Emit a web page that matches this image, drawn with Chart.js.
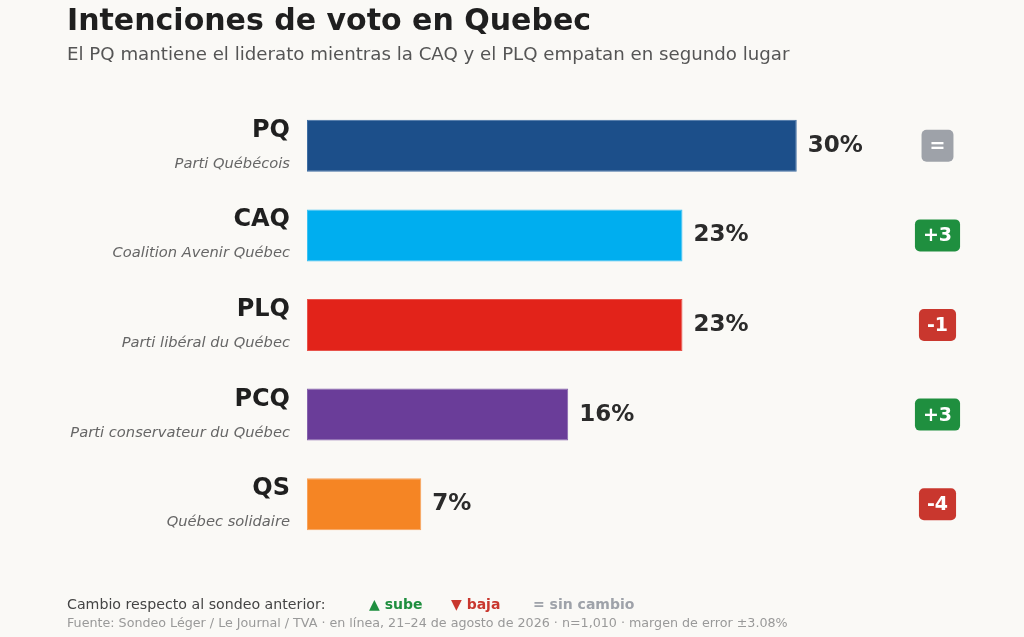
<!DOCTYPE html>
<html>
<head>
<meta charset="utf-8">
<script src="https://cdn.jsdelivr.net/npm/chart.js@4.4.1/dist/chart.umd.min.js"></script>
<style>
  html, body { margin: 0; padding: 0; background: #faf9f6; }
  canvas { display: block; }
</style>
</head>
<body>
<canvas id="voteChart" width="1024" height="637"></canvas>
<script>
const parties = ['PQ', 'CAQ', 'PLQ', 'PCQ', 'QS'];
const partyNames = ['Parti Québécois', 'Coalition Avenir Québec', 'Parti libéral du Québec', 'Parti conservateur du Québec', 'Québec solidaire'];
const votes = [30, 23, 23, 16, 7];
const changes = [0, 3, -1, 3, -4];
const barColors = ['#1c4f8a', '#00aeef', '#e2231a', '#6a3d99', '#f58524'];
const barBorders = ['#3f6ea3', '#3cc2f3', '#e8534b', '#8663ad', '#f8a25a'];

const FONT = '"DejaVu Sans", Verdana, sans-serif';

// text around the bars: title, party labels, values, change badges, footer
const annotations = {
    id: 'annotations',
    afterDatasetsDraw(chart) {
        const ctx = chart.ctx;
        const y = chart.scales.y;
        const x = chart.scales.x;
        ctx.save();

        ctx.textAlign = 'left';
        ctx.textBaseline = 'alphabetic';
        ctx.fillStyle = '#1f1f1f';
        ctx.font = 'bold 30px ' + FONT;
        ctx.fillText('Intenciones de voto en Quebec', 67, 30);
        ctx.fillStyle = '#555555';
        ctx.font = '18.2px ' + FONT;
        ctx.fillText('El PQ mantiene el liderato mientras la CAQ y el PLQ empatan en segundo lugar', 67, 60);

        parties.forEach(function (p, i) {
            const cy = y.getPixelForValue(i);

            // party labels
            ctx.textAlign = 'right';
            ctx.fillStyle = '#1f1f1f';
            ctx.font = 'bold 24px ' + FONT;
            ctx.fillText(p, 290, cy - 9);
            ctx.fillStyle = '#666666';
            ctx.font = 'italic 14.7px ' + FONT;
            ctx.fillText(partyNames[i], 290, cy + 22);

            // value
            ctx.textAlign = 'left';
            ctx.textBaseline = 'middle';
            ctx.fillStyle = '#2b2b2b';
            ctx.font = 'bold 23px ' + FONT;
            ctx.fillText(votes[i] + '%', x.getPixelForValue(votes[i]) + 11, cy);

            // change badge
            const c = changes[i];
            const txt = c > 0 ? '+' + c : (c < 0 ? '-' + Math.abs(c) : '=');
            ctx.font = 'bold 19px ' + FONT;
            const w = Math.max(30, ctx.measureText(txt).width + 16);
            const h = 32;
            ctx.fillStyle = c > 0 ? '#1f8f3f' : (c < 0 ? '#c9372e' : '#9ea2a9');
            ctx.beginPath();
            ctx.roundRect(937.5 - w / 2, cy - h / 2, w, h, 5);
            ctx.fill();
            ctx.fillStyle = '#ffffff';
            ctx.textAlign = 'center';
            ctx.fillText(txt, 937.5, cy + 1);
            ctx.textBaseline = 'alphabetic';
        });

        // footer
        ctx.textAlign = 'left';
        ctx.font = '14.2px ' + FONT;
        ctx.fillStyle = '#444444';
        ctx.fillText('Cambio respecto al sondeo anterior:', 67, 609);
        ctx.font = 'bold 14px ' + FONT;
        ctx.fillStyle = '#1f8f3f';
        ctx.fillText('▲ sube', 369, 609);
        ctx.fillStyle = '#c9372e';
        ctx.fillText('▼ baja', 451, 609);
        ctx.fillStyle = '#9ea2a9';
        ctx.fillText('= sin cambio', 533, 609);
        ctx.font = '12.7px ' + FONT;
        ctx.fillStyle = '#999999';
        ctx.fillText('Fuente: Sondeo Léger / Le Journal / TVA · en línea, 21–24 de agosto de 2026 · n=1,010 · margen de error ±3.08%', 67, 627);

        ctx.restore();
    }
};

const ctx = document.getElementById('voteChart').getContext('2d');
const chart = new Chart(ctx, {
    type: 'bar',
    data: {
        labels: parties,
        datasets: [{
            data: votes,
            backgroundColor: barColors,
            borderColor: barBorders,
            borderWidth: 1,
            borderSkipped: false,
            barPercentage: 0.58,
            categoryPercentage: 1
        }]
    },
    options: {
        indexAxis: 'y',
        responsive: false,
        animation: false,
        layout: {
            padding: { left: 307, right: 64, top: 101, bottom: 88 }
        },
        scales: {
            x: { display: false, min: 0, max: 40, grid: { display: false } },
            y: { display: false, grid: { display: false } }
        },
        plugins: {
            legend: { display: false },
            tooltip: { enabled: false }
        }
    },
    plugins: [annotations]
});
</script>
</body>
</html>
